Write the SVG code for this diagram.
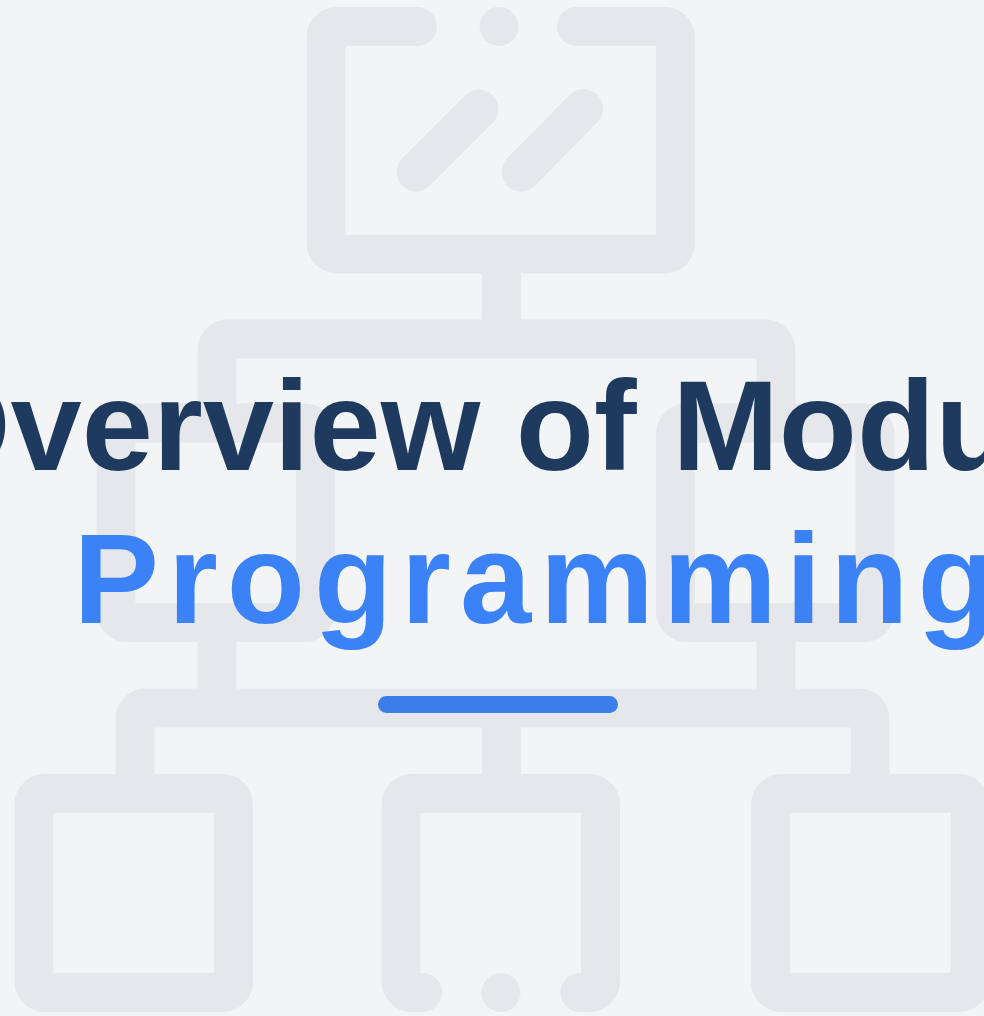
<svg xmlns="http://www.w3.org/2000/svg" width="984" height="1016" viewBox="0 0 984 1016">
  <style>
    .ic { fill: none; stroke: #e5e7eb; stroke-width: 39; stroke-linecap: round; stroke-linejoin: round; }
    .dot { fill: #e5e7eb; }
    .t { font-family: "Liberation Sans", Arial, Helvetica, sans-serif; font-weight: 700; font-size: 128px; }
  </style>
  <rect width="984" height="1016" fill="#f3f4f6"/>
  <g id="connectors">
    <path class="ic" d="M501.5 254 V339" style="stroke-linecap:butt"/>
    <path class="ic" d="M217 404 V350 A11 11 0 0 1 228 339 H765 A11 11 0 0 1 776 350 V404" style="stroke-linecap:butt"/>
    <path class="ic" d="M217 622 V708 M776 622 V708" style="stroke-linecap:butt"/>
    <path class="ic" d="M135 774 V719 A11 11 0 0 1 146 708 H859 A11 11 0 0 1 870 719 V774" style="stroke-linecap:butt"/>
    <path class="ic" d="M501.5 708 V794" style="stroke-linecap:butt"/>
  </g>
  <g id="node-top">
    <path class="ic" d="M417.5 26.5 H337 A11 11 0 0 0 326 37.5 V243 A11 11 0 0 0 337 254 H664.5 A11 11 0 0 0 675.5 243 V37.5 A11 11 0 0 0 664.5 26.5 H576.5"/>
    <circle class="dot" cx="499" cy="26.5" r="19.5"/>
    <path class="ic" d="M416 172 L479 109 M521 172 L583.5 108.5"/>
  </g>
  <g id="node-mid-left">
    <rect class="ic" x="116" y="423" width="199.5" height="199.5" rx="11"/>
  </g>
  <g id="node-mid-right">
    <rect class="ic" x="675.5" y="423" width="199.5" height="199.5" rx="11"/>
  </g>
  <g id="node-bottom-left">
    <rect class="ic" x="34" y="793.5" width="199.5" height="199" rx="11"/>
  </g>
  <g id="node-bottom-middle">
    <path class="ic" d="M422.5 992.5 H412 A11 11 0 0 1 401 981.5 V804.5 A11 11 0 0 1 412 793.5 H589.5 A11 11 0 0 1 600.5 804.5 V981.5 A11 11 0 0 1 589.5 992.5 H580"/>
    <circle class="dot" cx="501" cy="992.5" r="19.5"/>
  </g>
  <g id="node-bottom-right">
    <rect class="ic" x="770.5" y="793.5" width="199.5" height="199" rx="11"/>
  </g>
  <g id="title">
    <text class="t" x="-89" y="470" fill="#1e3a5f">Overview of Modular</text>
    <text class="t" x="73.5" y="623" fill="#3b82f6" letter-spacing="9">Programming</text>
    <rect x="378" y="696" width="240" height="17" rx="8.5" fill="#3a7ee8"/>
  </g>
</svg>
